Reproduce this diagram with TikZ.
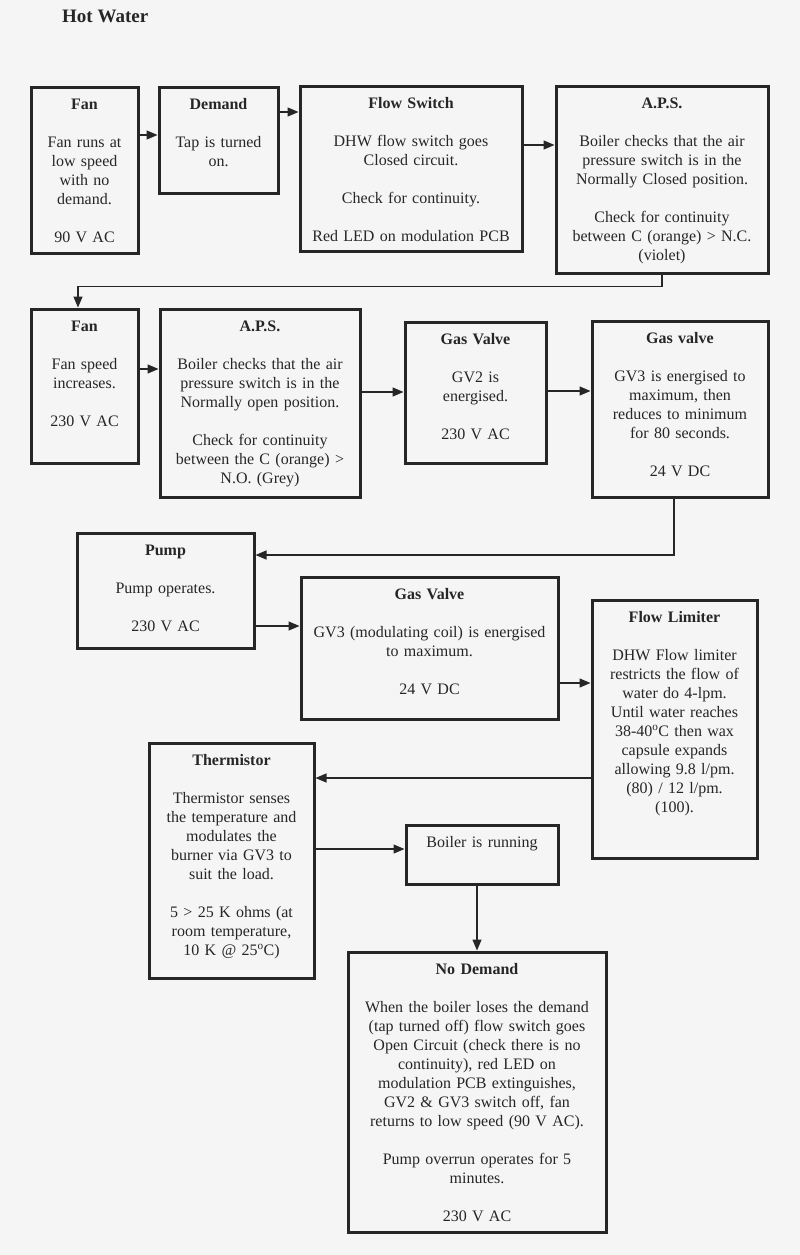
\documentclass[tikz,border=0pt]{standalone}
\usepackage{fontspec}
\setmainfont{Liberation Serif}
\usetikzlibrary{arrows.meta}
\definecolor{ink}{HTML}{262626}
\definecolor{paper}{HTML}{F5F5F5}
\newcommand\flowbox[6]{%
 \pgfmathsetmacro\bw{#4-#2}\pgfmathsetmacro\bh{#5-#3}%
 \pgfmathsetmacro\bx{(#2+#4)/2}\pgfmathsetmacro\by{(#3+#5)/2}%
 \pgfmathsetmacro\tw{#4-#2-8}%
 \pgfmathsetmacro\ty{#3+22.5}%
 \node[box, minimum width=\bw pt, minimum height=\bh pt] (#1) at (\bx,\by) {};
 \node[txt, text width=\tw pt] (#1-t) at (\bx,\ty) {#6};
}
\begin{document}
\begin{tikzpicture}[x=1pt,y=-1pt,
  box/.style={draw=ink, line width=3pt, rectangle, inner sep=0pt},
  txt/.style={anchor=base, inner sep=0pt, align=center, text=ink, font=\fontsize{16}{19}\selectfont},
  arr/.style={draw=ink, line width=1.3pt, -{Triangle[length=11pt,width=9pt]}},
  ttl/.style={anchor=base west, inner sep=0pt, text=ink, font=\fontsize{19}{22}\selectfont\bfseries}]
\useasboundingbox[fill=paper] (0,0) rectangle (800,1255);
\node[ttl] (title) at (62,23) {Hot Water};

\flowbox{fan1}{31}{87}{138}{253}{\textbf{Fan}\\[19pt] Fan runs at\\ low speed\\ with no\\ demand.\\[19pt] 90 V AC}
\flowbox{demand}{159}{87}{278}{193}{\textbf{Demand}\\[19pt] Tap is turned\\ on.}
\flowbox{flowsw}{300}{86}{522}{251}{\textbf{Flow Switch}\\[19pt] DHW flow switch goes\\ Closed circuit.\\[19pt] Check for continuity.\\[19pt] Red LED on modulation PCB}
\flowbox{aps1}{556}{86}{768}{273}{\textbf{A.P.S.}\\[19pt] Boiler checks that the air\\ pressure switch is in the\\ Normally Closed position.\\[19pt] Check for continuity\\ between C (orange) > N.C.\\ (violet)}

\flowbox{fan2}{31}{309}{138}{463}{\textbf{Fan}\\[19pt] Fan speed\\ increases.\\[19pt] 230 V AC}
\flowbox{aps2}{160}{309}{360}{497}{\textbf{A.P.S.}\\[19pt] Boiler checks that the air\\ pressure switch is in the\\ Normally open position.\\[19pt] Check for continuity\\ between the C (orange) >\\ N.O. (Grey)}
\flowbox{gv1}{405}{322}{546}{463}{\textbf{Gas Valve}\\[19pt] GV2 is\\ energised.\\[19pt] 230 V AC}
\flowbox{gv2}{592}{321}{768}{497}{\textbf{Gas valve}\\[19pt] GV3 is energised to\\ maximum, then\\ reduces to minimum\\ for 80 seconds.\\[19pt] 24 V DC}

\flowbox{pump}{77}{533}{254}{648}{\textbf{Pump}\\[19pt] Pump operates.\\[19pt] 230 V AC}
\flowbox{gv3}{301}{577}{558}{719}{\textbf{Gas Valve}\\[19pt] GV3 (modulating coil) is energised\\ to maximum.\\[19pt] 24 V DC}
\flowbox{flowlim}{592}{600}{757}{858}{\textbf{Flow Limiter}\\[19pt] DHW Flow limiter\\ restricts the flow of\\ water do 4-lpm.\\ Until water reaches\\ 38-40\textsuperscript{o}C then wax\\ capsule expands\\ allowing 9.8 l/pm.\\ (80) / 12 l/pm.\\ (100).}
\flowbox{therm}{149}{743}{314}{978}{\textbf{Thermistor}\\[19pt] Thermistor senses\\ the temperature and\\ modulates the\\ burner via GV3 to\\ suit the load.\\[19pt] 5 > 25 K ohms (at\\ room temperature,\\ 10 K @ 25\textsuperscript{o}C)}
\flowbox{boiler}{406}{825}{558}{884}{Boiler is running}
\flowbox{nodem}{348}{952}{606}{1232}{\textbf{No Demand}\\[19pt] When the boiler loses the demand\\ (tap turned off) flow switch goes\\ Open Circuit (check there is no\\ continuity), red LED on\\ modulation PCB extinguishes,\\ GV2 \& GV3 switch off, fan\\ returns to low speed (90 V AC).\\[19pt] Pump overrun operates for 5\\ minutes.\\[19pt] 230 V AC}

\draw[arr] (fan1.east |- 0,135) -- (demand.west |- 0,135);
\draw[arr] (demand.east |- 0,112) -- (flowsw.west |- 0,112);
\draw[arr] (flowsw.east |- 0,145) -- (aps1.west |- 0,145);
\draw[arr] (aps1.south -| 662,0) -- ++(0,12) -| (fan2.north -| 78,0);
\draw[arr] (fan2.east |- 0,369) -- (aps2.west |- 0,369);
\draw[arr] (aps2.east |- 0,392) -- (gv1.west |- 0,392);
\draw[arr] (gv1.east |- 0,391) -- (gv2.west |- 0,391);
\draw[arr] (gv2.south -| 674,0) |- (pump.east |- 0,555);
\draw[arr] (pump.east |- 0,626) -- (gv3.west |- 0,626);
\draw[arr] (gv3.east |- 0,683) -- (flowlim.west |- 0,683);
\draw[arr] (flowlim.west |- 0,778) -- (therm.east |- 0,778);
\draw[arr] (therm.east |- 0,849) -- (boiler.west |- 0,849);
\draw[arr] (boiler.south -| 477,0) -- (nodem.north -| 477,0);
\end{tikzpicture}
\end{document}
